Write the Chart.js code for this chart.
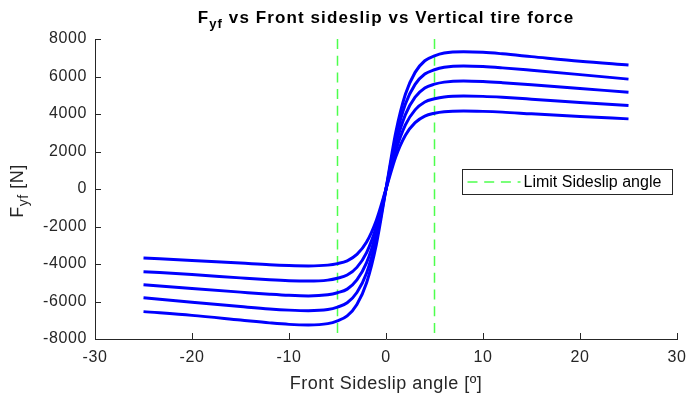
<!DOCTYPE html>
<html>
<head>
<meta charset="utf-8">
<script src="https://cdn.jsdelivr.net/npm/chart.js@4.4.1/dist/chart.umd.min.js"></script>
<style>
  html, body { margin: 0; padding: 0; background: #fff; }
  #wrap { width: 686px; height: 397px; position: relative; }
</style>
</head>
<body>
<div id="wrap"><canvas id="c"></canvas></div>
<script>
// sideslip angle samples [deg]
const slip = [-25, -20, -15, -12, -10, -8, -6, -5, -4, -3, -2, -1, 0, 1, 2, 3, 4, 5, 6, 8, 10, 12, 15, 20, 25];

// lateral force for each vertical load [N]
const fy1 = [-6540, -6740, -6990, -7140, -7220, -7250, -7180, -7030, -6770, -6160, -5000, -2970, 0, 3000, 5050, 6220, 6840, 7100, 7250, 7320, 7290, 7210, 7060, 6810, 6610];
const fy2 = [-5800, -6040, -6270, -6400, -6460, -6490, -6430, -6300, -6070, -5520, -4480, -2660, 0, 2690, 4530, 5580, 6130, 6360, 6490, 6560, 6530, 6460, 6330, 6100, 5860];
const fy3 = [-5110, -5310, -5500, -5610, -5670, -5700, -5640, -5530, -5340, -4850, -3930, -2340, 0, 2360, 3970, 4900, 5390, 5590, 5700, 5760, 5730, 5670, 5560, 5360, 5160];
const fy4 = [-4410, -4560, -4740, -4840, -4890, -4910, -4860, -4760, -4590, -4180, -3390, -2010, 0, 2030, 3420, 4220, 4640, 4810, 4910, 4960, 4940, 4890, 4790, 4610, 4450];
const fy5 = [-3680, -3810, -3950, -4040, -4080, -4100, -4060, -3980, -3830, -3490, -2830, -1680, 0, 1710, 2870, 3540, 3890, 4040, 4120, 4160, 4140, 4100, 4010, 3870, 3740];

const limitAngles = [-5, 5];
const yRange = [8000, -8000];
const xTicks = [-30, -20, -10, 0, 10, 20, 30];
const yTicks = [-8000, -6000, -4000, -2000, 0, 2000, 4000, 6000, 8000];

const textColor = "#262626";
const limitColor = "#4dff4d";
const font = "'Liberation Sans', Arial, Helvetica, sans-serif";

const curveSet = [fy1, fy2, fy3, fy4, fy5].map((fy) => ({
  data: slip.map((x, i) => ({ x: x, y: fy[i] })),
  borderColor: "#0000ff",
  borderWidth: 3,
  pointRadius: 0,
  fill: false,
  cubicInterpolationMode: "monotone",
}));

const limitSet = limitAngles.map((a) => ({
  data: yRange.map((y) => ({ x: a, y: y })),
  borderColor: limitColor,
  borderWidth: 1.5,
  borderDash: [10, 6.7],
  pointRadius: 0,
  fill: false,
}));

// draws "F" + subscript "yf" + rest, starting at x (left aligned)
function subText(ctx, x, y, size, subSize, weight, rest, spacing) {
  ctx.letterSpacing = spacing + "px";
  ctx.font = weight + size + "px " + font;
  const wF = ctx.measureText("F").width;
  ctx.fillText("F", x, y);
  ctx.font = weight + subSize + "px " + font;
  const wSub = ctx.measureText("yf").width;
  ctx.fillText("yf", x + wF, y + 5);
  ctx.font = weight + size + "px " + font;
  ctx.fillText(rest, x + wF + wSub, y);
}

function subWidth(ctx, size, subSize, weight, rest, spacing) {
  ctx.letterSpacing = spacing + "px";
  ctx.font = weight + size + "px " + font;
  let w = ctx.measureText("F").width + ctx.measureText(rest).width;
  ctx.font = weight + subSize + "px " + font;
  return w + ctx.measureText("yf").width;
}

// title, axis labels with subscripts, inward ticks and the legend box
const decor = {
  id: "decor",
  beforeDraw(chart) {
    chart.ctx.letterSpacing = "0.6px";
  },
  afterDraw(chart) {
    const ctx = chart.ctx;
    const xs = chart.scales.x;
    const ys = chart.scales.y;
    const area = chart.chartArea;
    ctx.letterSpacing = "0px";
    ctx.save();

    // inward tick marks
    ctx.strokeStyle = textColor;
    ctx.lineWidth = 1;
    ctx.beginPath();
    xTicks.forEach((t) => {
      const px = Math.round(xs.getPixelForValue(t)) + 0.5;
      ctx.moveTo(px, area.bottom);
      ctx.lineTo(px, area.bottom - 6);
    });
    yTicks.forEach((t) => {
      const py = Math.round(ys.getPixelForValue(t)) + 0.5;
      ctx.moveTo(area.left, py);
      ctx.lineTo(area.left + 6, py);
    });
    ctx.stroke();

    // title
    const rest = " vs Front sideslip vs Vertical tire force";
    ctx.fillStyle = "#000";
    ctx.textBaseline = "alphabetic";
    ctx.textAlign = "left";
    const tw = subWidth(ctx, 17, 13, "bold ", rest, 1.1);
    subText(ctx, (area.left + area.right) / 2 - tw / 2, 23, 17, 13, "bold ", rest, 1.1);

    // x label
    ctx.fillStyle = textColor;
    ctx.letterSpacing = "0.5px";
    ctx.font = "18px " + font;
    ctx.textAlign = "center";
    ctx.fillText("Front Sideslip angle [\u00ba]", (area.left + area.right) / 2, 389);

    // y label
    ctx.save();
    ctx.translate(23, (area.top + area.bottom) / 2 + 2);
    ctx.rotate(-Math.PI / 2);
    ctx.textAlign = "left";
    const yw = subWidth(ctx, 18, 14, "", " [N]", 0.5);
    subText(ctx, -yw / 2, 0, 18, 14, "", " [N]", 0.5);
    ctx.restore();

    // legend
    ctx.letterSpacing = "0px";
    const bx = 462.5, by = 169.5, bw = 210, bh = 25;
    ctx.fillStyle = "#fff";
    ctx.fillRect(bx, by, bw, bh);
    ctx.strokeStyle = "#262626";
    ctx.lineWidth = 1;
    ctx.strokeRect(bx, by, bw, bh);
    ctx.strokeStyle = limitColor;
    ctx.lineWidth = 1.5;
    ctx.setLineDash([10, 6.7]);
    ctx.beginPath();
    ctx.moveTo(bx + 5, by + bh / 2);
    ctx.lineTo(bx + 58, by + bh / 2);
    ctx.stroke();
    ctx.setLineDash([]);
    ctx.fillStyle = "#000";
    ctx.font = "16px " + font;
    ctx.textAlign = "left";
    ctx.textBaseline = "middle";
    ctx.fillText("Limit Sideslip angle", bx + 61, by + bh / 2 + 1);

    ctx.restore();
  },
};

new Chart(document.getElementById("c"), {
  type: "line",
  data: { datasets: [...curveSet, ...limitSet] },
  options: {
    responsive: true,
    maintainAspectRatio: false,
    animation: false,
    layout: { padding: { top: 39, right: 9, left: 0, bottom: 0 } },
    plugins: {
      legend: { display: false },
      title: { display: false },
      tooltip: { enabled: false },
    },
    scales: {
      x: {
        type: "linear",
        min: -30,
        max: 30,
        afterBuildTicks: (s) => { s.ticks = xTicks.map((v) => ({ value: v })); },
        afterFit: (s) => { s.height = 58; s.paddingLeft = 0; s.paddingRight = 0; },
        grid: { display: false, drawTicks: false },
        border: { display: true, color: textColor, width: 1 },
        ticks: {
          color: textColor,
          font: { family: font, size: 16 },
          padding: 9,
          maxRotation: 0,
          callback: (v) => String(v),
        },
      },
      y: {
        type: "linear",
        min: -8000,
        max: 8000,
        afterBuildTicks: (s) => { s.ticks = yTicks.map((v) => ({ value: v })); },
        afterFit: (s) => { s.width = 95; s.paddingTop = 0; s.paddingBottom = 0; },
        grid: { display: false, drawTicks: false },
        border: { display: true, color: textColor, width: 1 },
        ticks: {
          color: textColor,
          font: { family: font, size: 16 },
          padding: 8,
          callback: (v) => String(v),
        },
      },
    },
  },
  plugins: [decor],
});
</script>
</body>
</html>
